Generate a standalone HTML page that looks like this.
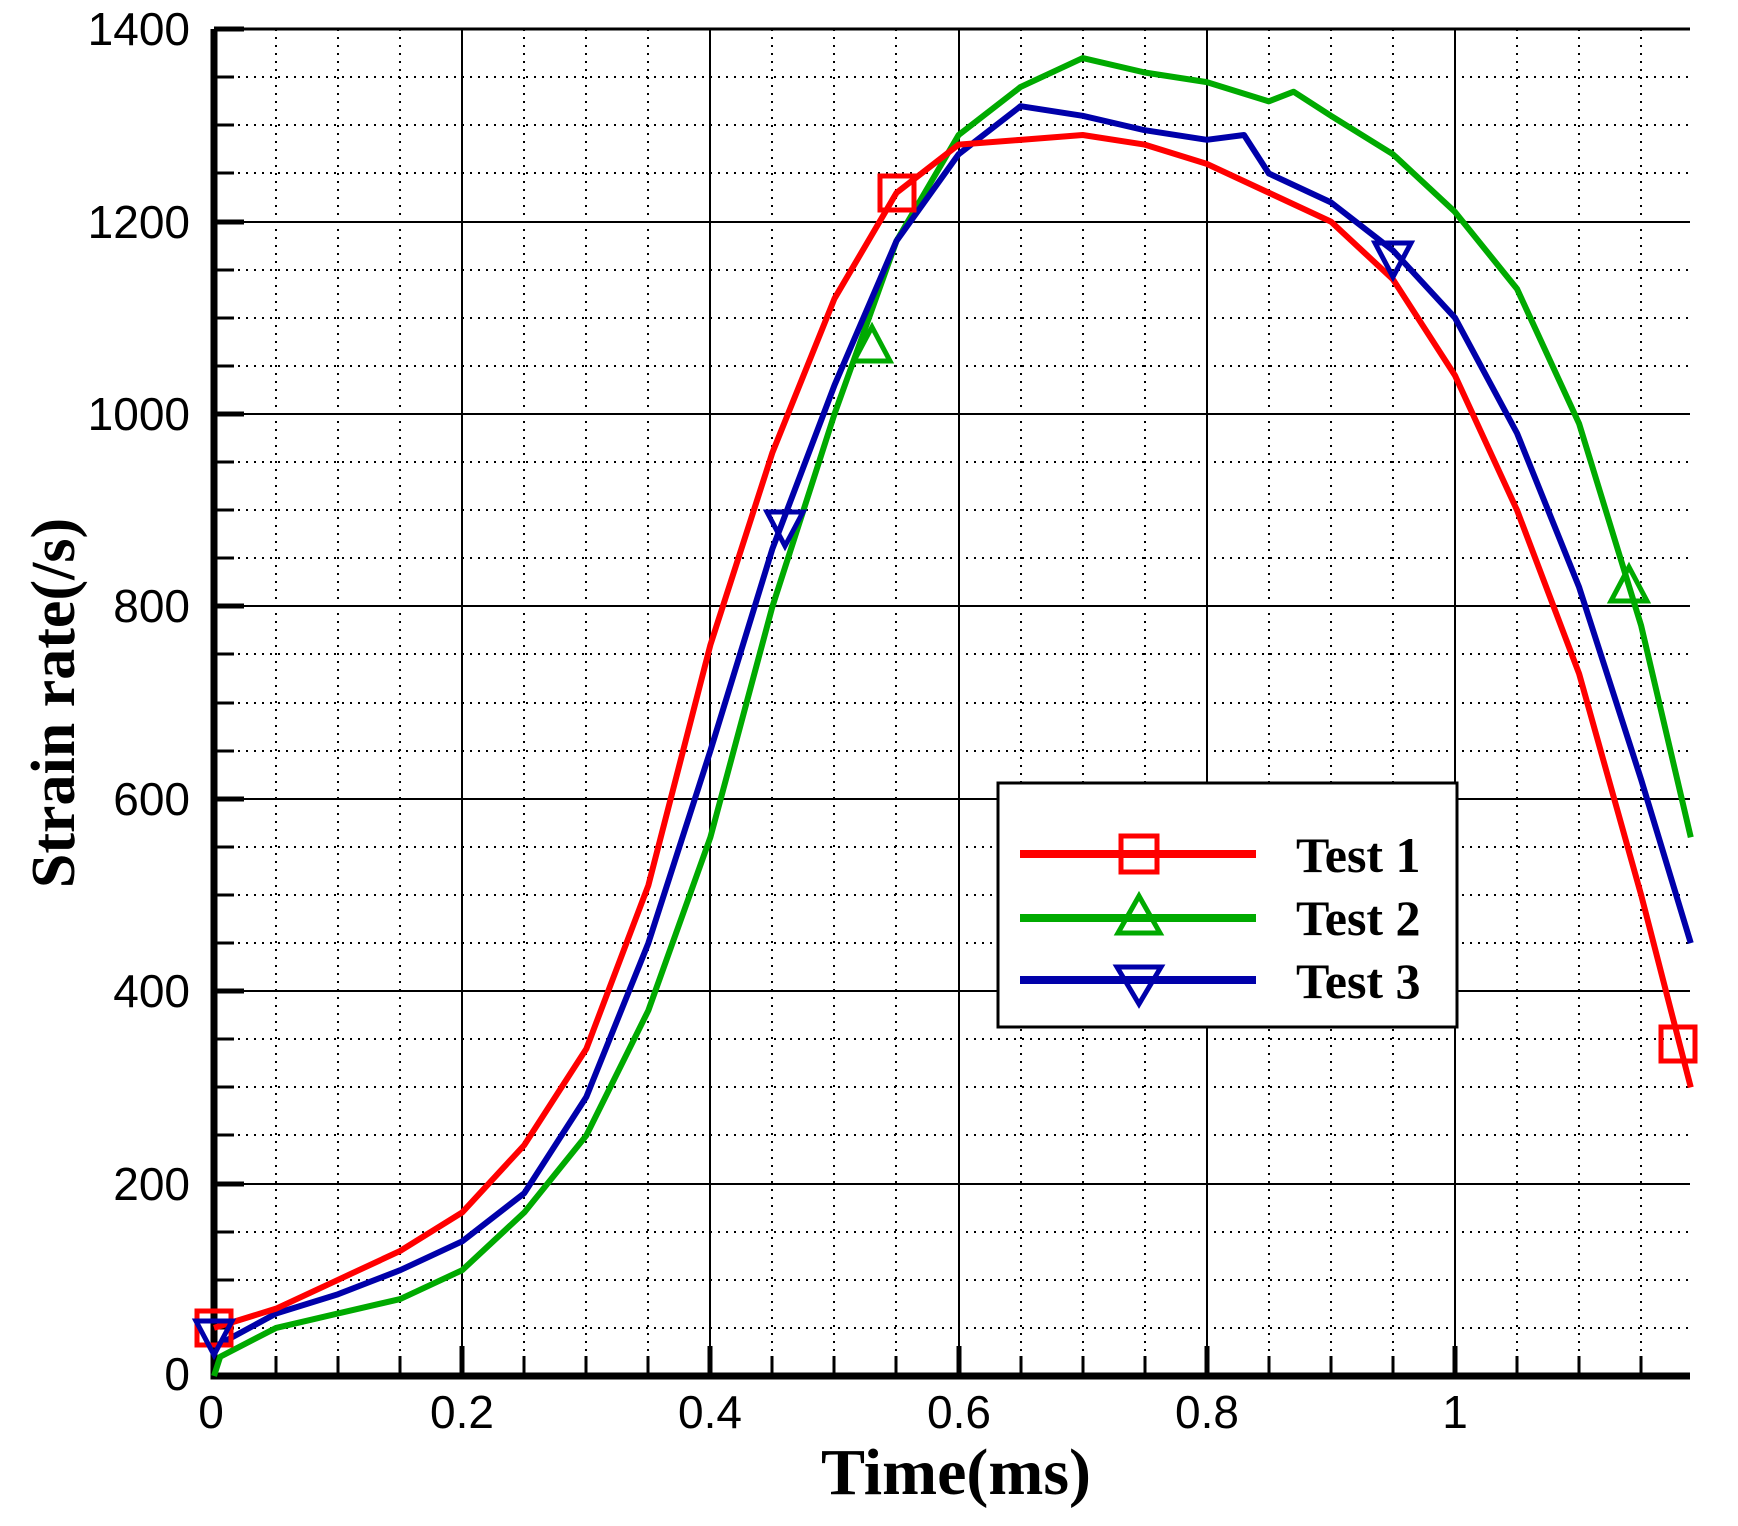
<!DOCTYPE html>
<html><head><meta charset="utf-8"><style>html,body{margin:0;padding:0;background:#fff}svg{display:block}</style></head>
<body>
<svg width="1738" height="1526" viewBox="0 0 1738 1526" xmlns="http://www.w3.org/2000/svg">
<rect width="1738" height="1526" fill="#fff"/>
<g stroke="#000" stroke-width="2" stroke-dasharray="2 6" fill="none">
<path d="M276 29V1376M338 29V1376M400 29V1376M524 29V1376M586 29V1376M648 29V1376M772 29V1376M834 29V1376M896 29V1376M1021 29V1376M1083 29V1376M1145 29V1376M1269 29V1376M1331 29V1376M1393 29V1376M1517 29V1376M1579 29V1376M1641 29V1376"/>
<path d="M214 1328H1690M214 1280H1690M214 1232H1690M214 1135H1690M214 1087H1690M214 1039H1690M214 943H1690M214 895H1690M214 847H1690M214 751H1690M214 703H1690M214 654H1690M214 558H1690M214 510H1690M214 462H1690M214 366H1690M214 318H1690M214 270H1690M214 173H1690M214 125H1690M214 77H1690"/>
</g>
<g stroke="#000" stroke-width="2" fill="none">
<path d="M462 29V1376M710 29V1376M959 29V1376M1207 29V1376M1455 29V1376"/>
<path d="M214 1184H1690M214 991H1690M214 799H1690M214 606H1690M214 414H1690M214 222H1690"/>
</g>
<g stroke="#000" stroke-width="5" fill="none">
<path d="M462 1376v-30M710 1376v-30M959 1376v-30M1207 1376v-30M1455 1376v-30"/>
<path d="M214 1184h30M214 991h30M214 799h30M214 606h30M214 414h30M214 222h30M214 29h30"/>
</g>
<g stroke="#000" stroke-width="3" fill="none">
<path d="M276 1376v-20M338 1376v-20M400 1376v-20M524 1376v-20M586 1376v-20M648 1376v-20M772 1376v-20M834 1376v-20M896 1376v-20M1021 1376v-20M1083 1376v-20M1145 1376v-20M1269 1376v-20M1331 1376v-20M1393 1376v-20M1517 1376v-20M1579 1376v-20M1641 1376v-20"/>
<path d="M214 1328h20M214 1280h20M214 1232h20M214 1135h20M214 1087h20M214 1039h20M214 943h20M214 895h20M214 847h20M214 751h20M214 703h20M214 654h20M214 558h20M214 510h20M214 462h20M214 366h20M214 318h20M214 270h20M214 173h20M214 125h20M214 77h20"/>
</g>
<path d="M214 29H1690" stroke="#000" stroke-width="3"/>
<path d="M214 29V1376H1690" stroke="#000" stroke-width="7" fill="none"/>
<g transform="translate(214,1376) scale(1241,-0.962)" fill="none" stroke-linejoin="round">
<polyline vector-effect="non-scaling-stroke" stroke="#00aa00" stroke-width="6" points="0,0 0.005,20 0.05,50 0.1,65 0.15,80 0.2,110 0.25,170 0.3,250 0.35,380 0.4,560 0.45,800 0.5,1000 0.55,1180 0.6,1290 0.65,1340 0.7,1370 0.75,1355 0.8,1345 0.85,1325 0.87,1335 0.9,1310 0.95,1270 1.0,1210 1.05,1130 1.1,990 1.15,780 1.19,560"/>
<polyline vector-effect="non-scaling-stroke" stroke="#0000aa" stroke-width="6" points="0,30 0.05,65 0.1,85 0.15,110 0.2,140 0.25,190 0.3,290 0.35,450 0.4,650 0.45,860 0.5,1030 0.55,1180 0.6,1270 0.65,1320 0.7,1310 0.75,1295 0.8,1285 0.83,1290 0.85,1250 0.9,1220 0.95,1170 1.0,1100 1.05,980 1.1,820 1.15,620 1.19,450"/>
<polyline vector-effect="non-scaling-stroke" stroke="#ff0000" stroke-width="6" points="0,50 0.05,70 0.1,100 0.15,130 0.2,170 0.25,240 0.3,340 0.35,510 0.4,760 0.45,960 0.5,1120 0.55,1230 0.6,1280 0.65,1285 0.7,1290 0.75,1280 0.8,1260 0.85,1230 0.9,1200 0.95,1140 1.0,1040 1.05,900 1.1,730 1.15,500 1.19,300"/>
</g>
<g fill="none" stroke-width="5">
<g stroke="#ff0000"><rect x="197" y="1311" width="34" height="34"/><rect x="880" y="176" width="34" height="34"/><rect x="1661" y="1027" width="34" height="34"/></g>
<g stroke="#00aa00"><path d="M872 327l18 34h-36z"/><path d="M1629 567l18 34h-36z"/></g>
<g stroke="#0000aa"><path d="M196 1321h36l-18 34z"/><path d="M767 512h36l-18 34z"/><path d="M1375 243h36l-18 34z"/></g>
</g>
<rect x="998" y="783" width="459" height="244" fill="#fff" stroke="#000" stroke-width="3"/>
<g stroke-width="8"><path d="M1020 854H1256" stroke="#ff0000"/><path d="M1020 918H1256" stroke="#00aa00"/><path d="M1020 980H1256" stroke="#0000aa"/></g>
<g fill="none" stroke-width="5"><rect x="1121" y="836" width="36" height="36" stroke="#ff0000"/><path d="M1139 896l21 37h-42z" stroke="#00aa00"/><path d="M1117 967h44l-22 37z" stroke="#0000aa"/></g>
<g font-family="Liberation Serif, serif" font-weight="bold" font-size="50" fill="#000">
<text x="1296" y="872">Test 1</text><text x="1296" y="935">Test 2</text><text x="1296" y="998">Test 3</text>
</g>
<g font-family="Liberation Sans, sans-serif" font-size="46" fill="#000" text-anchor="end">
<text x="190" y="45">1400</text><text x="190" y="238">1200</text><text x="190" y="430">1000</text><text x="190" y="622">800</text><text x="190" y="815">600</text><text x="190" y="1007">400</text><text x="190" y="1200">200</text><text x="190" y="1390">0</text>
</g>
<g font-family="Liberation Sans, sans-serif" font-size="46" fill="#000" text-anchor="middle">
<text x="211" y="1428">0</text><text x="462" y="1428">0.2</text><text x="710" y="1428">0.4</text><text x="959" y="1428">0.6</text><text x="1207" y="1428">0.8</text><text x="1455" y="1428">1</text>
</g>
<text x="956" y="1494" font-family="Liberation Serif, serif" font-weight="bold" font-size="66" text-anchor="middle">Time(ms)</text>
<text transform="translate(74,703) rotate(-90)" font-family="Liberation Serif, serif" font-weight="bold" font-size="62" text-anchor="middle">Strain rate(/s)</text>
</svg>
</body></html>
